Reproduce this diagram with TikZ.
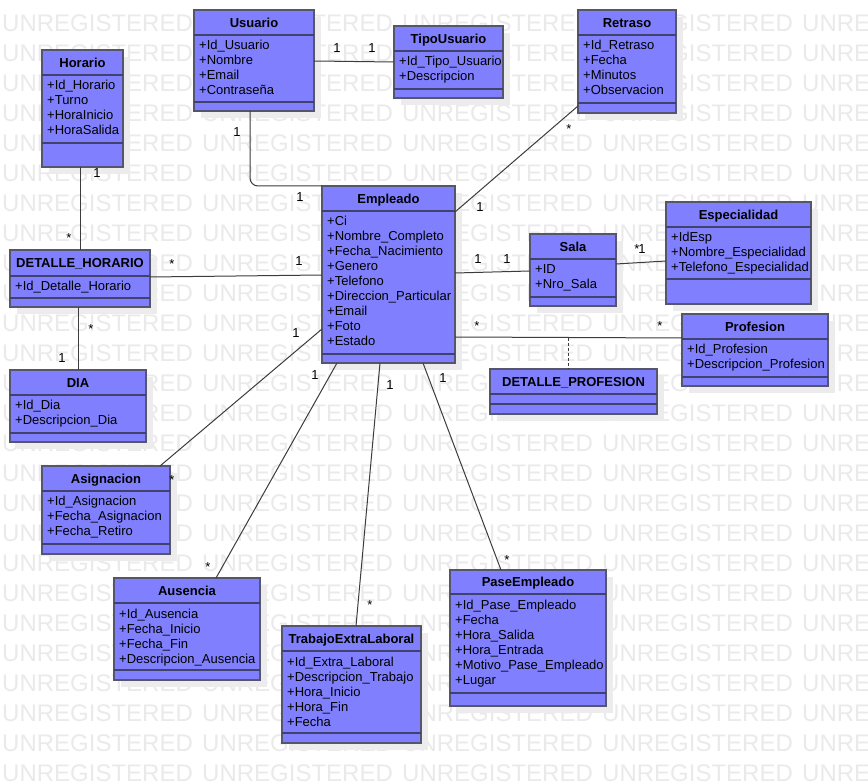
\documentclass[tikz,border=0pt]{standalone}
\usepackage{fontspec}
\setmainfont{Liberation Sans}
\definecolor{boxfill}{RGB}{128,128,255}
\definecolor{boxline}{RGB}{85,85,110}
\definecolor{sepc}{RGB}{65,65,110}
\definecolor{shadowc}{RGB}{236,236,236}
\definecolor{wmc}{RGB}{234,234,234}
\definecolor{connc}{RGB}{60,60,60}
\tikzset{
 classbox/.style={draw=boxline, line width=1.6pt, fill=boxfill, inner sep=0pt, outer sep=0pt},
 sepline/.style={draw=sepc, line width=1.6pt},
 ctitle/.style={font=\fontsize{13}{15}\selectfont\bfseries, inner sep=0pt, anchor=base},
 cattr/.style={font=\fontsize{13}{15}\selectfont, inner sep=0pt, anchor=base west},
 conn/.style={draw=connc, line width=1pt},
 mult/.style={font=\fontsize{13}{15}\selectfont, inner sep=0pt},
 mstar/.style={mult, yshift=-2.7pt},
 wm/.style={font=\fontsize{24}{24}\selectfont, text=wmc, inner sep=0pt, anchor=base west},
}
% #1 name, #2 left, #3 top, #4 right, #5 bottom, #6 sep1, #7 sep2, #8 title, #9 attributes
\newcommand\umlclass[9]{%
 \fill[shadowc] (#2+7,-#3-7) rectangle (#4+7,-#5-7);
 \node[classbox, anchor=north west, minimum width={#4-#2}, minimum height={#5-#3}] (#1) at (#2,-#3) {};
 \draw[sepline] (#2,-#6) -- (#4,-#6);
 \draw[sepline] (#2,-#7) -- (#4,-#7);
 \node[ctitle] (#1-title) at ({(#2+#4)/2},{-(#3+#6)/2-4.6}) {#8};
 \foreach \a [count=\i] in {#9} {\node[cattr] (#1-a\i) at (#2+5,{-#6-15*\i}) {\a};}
}
\begin{document}
\begin{tikzpicture}[x=1pt,y=1pt]
\useasboundingbox (0,0) rectangle (868,-783);
\fill[white] (0,0) rectangle (868,-783);
\begin{scope}
\clip (0,0) rectangle (868,-783);
\foreach \r in {0,...,25} {
  \foreach \c in {0,...,4} {
    \node[wm] (wm-\r-\c) at ({2+200*\c},{-31.5-30*\r}) {UNREGISTERED};
  }
}
\end{scope}

\umlclass{usuario}{194}{10}{314}{111}{35}{102}{Usuario}{+Id\_Usuario,+Nombre,+Email,+Contraseña}
\umlclass{tipo}{394}{26}{503}{98}{51}{89}{TipoUsuario}{+Id\_Tipo\_Usuario,+Descripcion}
\umlclass{retraso}{578}{10}{676}{113}{35}{103}{Retraso}{+Id\_Retraso,+Fecha,+Minutos,+Observacion}
\umlclass{horario}{42}{50}{123}{167}{75}{143}{Horario}{+Id\_Horario,+Turno,+HoraInicio,+HoraSalida}
\umlclass{dh}{10}{250}{150}{307}{276}{298}{DETALLE\_HORARIO}{+Id\_Detalle\_Horario}
\umlclass{dia}{10}{370}{146}{442}{395}{433}{DIA}{+Id\_Dia,+Descripcion\_Dia}
\umlclass{empleado}{322}{186}{455}{363}{211}{354}{Empleado}{+Ci,+Nombre\_Completo,+Fecha\_Nacimiento,+Genero,+Telefono,+Direccion\_Particular,+Email,+Foto,+Estado}
\umlclass{sala}{530}{234}{616}{306}{259}{297}{Sala}{+ID,+Nro\_Sala}
\umlclass{detprof}{490}{369}{657}{414}{394}{404}{DETALLE\_PROFESION}{}
\umlclass{esp}{666}{202}{811}{304}{227}{279}{Especialidad}{+IdEsp,+Nombre\_Especialidad,+Telefono\_Especialidad}
\umlclass{prof}{682}{314}{828}{386}{339}{377}{Profesion}{+Id\_Profesion,+Descripcion\_Profesion}
\umlclass{asign}{42}{466}{170}{554}{491}{544}{Asignacion}{+Id\_Asignacion,+Fecha\_Asignacion,+Fecha\_Retiro}
\umlclass{aus}{114}{578}{260}{680}{603}{670}{Ausencia}{+Id\_Ausencia,+Fecha\_Inicio,+Fecha\_Fin,+Descripcion\_Ausencia}
\umlclass{trab}{282}{626}{421}{743}{651}{733}{TrabajoExtraLaboral}{+Id\_Extra\_Laboral,+Descripcion\_Trabajo,+Hora\_Inicio,+Hora\_Fin,+Fecha}
\umlclass{pase}{450}{570}{606}{706}{594}{693}{PaseEmpleado}{+Id\_Pase\_Empleado,+Fecha,+Hora\_Salida,+Hora\_Entrada,+Motivo\_Pase\_Empleado,+Lugar}

% connectors
\draw[conn] ([yshift=-51pt]usuario.north east) -- ([yshift=-36pt]tipo.north west);
\draw[conn, rounded corners=8pt] ([xshift=56pt]usuario.south west) |- (empleado.north west);
\draw[conn] ([xshift=38pt]horario.south west) -- ([xshift=70pt]dh.north west);
\draw[conn] ([yshift=-27pt]dh.north east) -- ([yshift=-89pt]empleado.north west);
\draw[conn] ([xshift=68pt]dh.south west) -- ([xshift=68pt]dia.north west);
\draw[conn] ([yshift=7pt]retraso.south west) -- ([yshift=-26pt]empleado.north east);
\draw[conn] ([yshift=-87pt]empleado.north east) -- ([yshift=-37pt]sala.north west);
\draw[conn] ([yshift=-30pt]sala.north east) -- ([yshift=-59pt]esp.north west);
\draw[conn] ([yshift=-151pt]empleado.north east) -- coordinate[pos=0.502] (profmid) ([yshift=-24pt]prof.north west);
\draw[connc, line width=1pt, dash pattern=on 3pt off 2pt] (profmid) -- (profmid |- detprof.north);
\draw[conn] ([yshift=-143pt]empleado.north west) -- ([xshift=118pt]asign.north west);
\draw[conn] ([xshift=15pt]empleado.south west) -- ([xshift=102pt]aus.north west);
\draw[conn] ([xshift=58pt]empleado.south west) -- ([xshift=74pt]trab.north west);
\draw[conn] ([xshift=101pt]empleado.south west) -- ([xshift=51pt]pase.north west);

% multiplicities
\node[mult] (m1) at (337,-48) {1};
\node[mult] (m2) at (372,-48) {1};
\node[mult] (m3) at (237,-132) {1};
\node[mult] (m4) at (300,-197) {1};
\node[mult] (m5) at (97,-173) {1};
\node[mstar] (m6) at (69,-235) {*};
\node[mstar] (m7) at (172,-261) {*};
\node[mult] (m8) at (299,-261) {1};
\node[mstar] (m9) at (91,-326) {*};
\node[mult] (m10) at (62,-358) {1};
\node[mult] (m11) at (296,-333) {1};
\node[mstar] (m12) at (172,-477) {*};
\node[mult] (m13) at (315,-375) {1};
\node[mstar] (m14) at (208,-564) {*};
\node[mult] (m15) at (390,-385) {1};
\node[mstar] (m16) at (370,-602) {*};
\node[mult] (m17) at (443,-378) {1};
\node[mstar] (m18) at (507,-557) {*};
\node[mstar] (m19) at (569,-126) {*};
\node[mult] (m20) at (480,-207) {1};
\node[mult] (m21) at (478,-259) {1};
\node[mult] (m22) at (507,-259) {1};
\node[mstar] (m23) at (637,-246) {*};
\node[mult] (m24) at (642,-249) {1};
\node[mstar] (m25) at (477,-323) {*};
\node[mstar] (m26) at (660,-323) {*};
\end{tikzpicture}
\end{document}
